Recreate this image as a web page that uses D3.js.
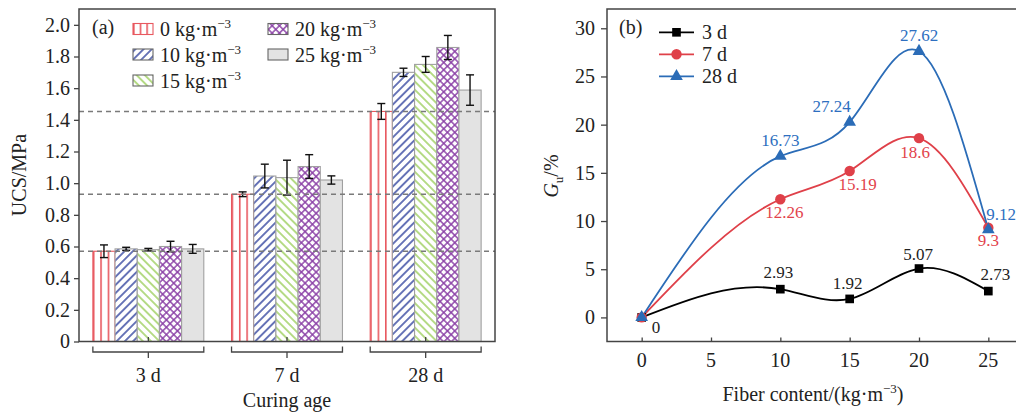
<!DOCTYPE html>
<html>
<head>
<meta charset="utf-8">
<script src="https://cdn.jsdelivr.net/npm/d3@7"></script>
<style>
  body { margin: 0; background: #fff; }
  svg text { font-family: "Liberation Serif", "Times New Roman", serif; fill: #222; }
</style>
</head>
<body>
<svg id="chart" width="1016" height="415" font-family="Liberation Serif, serif"></svg>
<script>
// ---- data: panel (a) UCS bars ----
var ages = ['3 d', '7 d', '28 d'];
var contents = ['0', '10', '15', '20', '25'];
var ucs3d = [0.57, 0.585, 0.58, 0.60, 0.585];
var ucs7d = [0.93, 1.045, 1.035, 1.105, 1.02];
var ucs28d = [1.453, 1.70, 1.75, 1.857, 1.588];
var err3d = [0.04, 0.01, 0.008, 0.033, 0.028];
var err7d = [0.015, 0.075, 0.11, 0.075, 0.026];
var err28d = [0.05, 0.026, 0.05, 0.076, 0.096];
var ucsTicks = [0, 0.2, 0.4, 0.6, 0.8, 1.0, 1.2, 1.4, 1.6, 1.8, 2.0];

// ---- data: panel (b) Gu lines ----
var fiber = [0, 10, 15, 20, 25];
var gu3d = [0, 2.93, 1.92, 5.07, 2.73];
var gu7d = [0, 12.26, 15.19, 18.6, 9.3];
var gu28d = [0, 16.73, 20.27, 27.62, 9.12];
var lbl3d = ['0', '2.93', '1.92', '5.07', '2.73'];
var lbl7d = ['', '12.26', '15.19', '18.6', '9.3'];
var lbl28d = ['', '16.73', '27.24', '27.62', '9.12'];
var guTicks = [0, 5, 10, 15, 20, 25, 30];
var fiberTicks = [0, 5, 10, 15, 20, 25];

var svg = d3.select('#chart'),
    defs = svg.append('defs');

var RED = '#e8585f', BLUE = '#2b6cb7', BAR_BLUE = '#2a3c9a',
    GREEN = '#98cc55', PURPLE = '#8a3fa6', GREY_EDGE = '#a0a0a0';

createPatterns();
drawUcs();
drawGu();

//////////////////////////////////////////////////////
function createPatterns() {
    // vertical red lines, three per bar
    var p0 = defs.append('pattern')
        .attr('id', 'pat0')
        .attr('patternUnits', 'objectBoundingBox')
        .attr('width', 1 / 3).attr('height', 1);
    p0.append('line')
        .attr('x1', 0.8).attr('x2', 0.8).attr('y1', 0).attr('y2', 500)
        .attr('stroke', RED).attr('stroke-width', 1.6);

    hatch('pat10', BAR_BLUE, 45, 5.8, false, 1.4);
    hatch('pat15', GREEN, -45, 5.8, false, 1.4);
    hatch('pat20', PURPLE, 45, 5.2, true, 1.4);
}

function hatch(id, color, angle, gap, cross, sw) {
    var p = defs.append('pattern')
        .attr('id', id)
        .attr('patternUnits', 'userSpaceOnUse')
        .attr('width', gap).attr('height', gap)
        .attr('patternTransform', 'rotate(' + angle + ')');
    p.append('rect').attr('width', gap).attr('height', gap).attr('fill', '#fff');
    p.append('line')
        .attr('x1', gap / 2).attr('x2', gap / 2).attr('y1', 0).attr('y2', gap)
        .attr('stroke', color).attr('stroke-width', sw);
    if (cross) {
        p.append('line')
            .attr('x1', 0).attr('x2', gap).attr('y1', gap / 2).attr('y2', gap / 2)
            .attr('stroke', color).attr('stroke-width', sw);
    }
}

// cubic spline as a function of x (natural end conditions), drawn as beziers
function curveSplineX(context) {
    var xs, ys;
    return {
        areaStart: function() {},
        areaEnd: function() {},
        lineStart: function() { xs = []; ys = []; },
        point: function(x, y) { xs.push(+x); ys.push(+y); },
        lineEnd: function() {
            var n = xs.length - 1, i, h = [], M = [], s = [];
            for (i = 0; i < n; i++) h[i] = xs[i + 1] - xs[i];
            for (i = 0; i <= n; i++) M[i] = 0;
            // thomas algorithm for interior second derivatives
            var a = [], b = [], c = [], r = [];
            for (i = 1; i < n; i++) {
                a[i] = h[i - 1];
                b[i] = 2 * (h[i - 1] + h[i]);
                c[i] = h[i];
                r[i] = 6 * ((ys[i + 1] - ys[i]) / h[i] - (ys[i] - ys[i - 1]) / h[i - 1]);
            }
            for (i = 2; i < n; i++) {
                var m = a[i] / b[i - 1];
                b[i] -= m * c[i - 1];
                r[i] -= m * r[i - 1];
            }
            for (i = n - 1; i >= 1; i--) {
                M[i] = (r[i] - (i < n - 1 ? c[i] * M[i + 1] : 0)) / b[i];
            }
            for (i = 0; i < n; i++) {
                s[i] = (ys[i + 1] - ys[i]) / h[i] - h[i] * (2 * M[i] + M[i + 1]) / 6;
            }
            s[n] = (ys[n] - ys[n - 1]) / h[n - 1] + h[n - 1] * (M[n - 1] + 2 * M[n]) / 6;

            context.moveTo(xs[0], ys[0]);
            for (i = 0; i < n; i++) {
                context.bezierCurveTo(
                    xs[i] + h[i] / 3, ys[i] + h[i] * s[i] / 3,
                    xs[i + 1] - h[i] / 3, ys[i + 1] - h[i] * s[i + 1] / 3,
                    xs[i + 1], ys[i + 1]);
            }
        }
    };
}

function barFill(j) {
    return j === 4 ? '#e3e3e3' : 'url(#pat' + contents[j] + ')';
}
function barEdge(j) {
    return j === 0 ? RED : GREY_EDGE;
}

function supUnit(sel, prefix) {
    sel.append('tspan').text(prefix + 'kg·m');
    sel.append('tspan').attr('dy', -8).attr('font-size', 13).text('−3');
}

function styleAxis(ax) {
    ax.attr('font-family', null).attr('font-size', null);
    ax.select('.domain').remove();
    ax.selectAll('line').attr('stroke', '#444').attr('stroke-width', 1.3);
    ax.selectAll('text').attr('font-size', 20).attr('fill', '#222');
}

function drawUcs() {
    var left = 79, right = 495, top = 9, bottom = 341.5;
    var means = [ucs3d, ucs7d, ucs28d],
        errs = [err3d, err7d, err28d];

    var x0 = d3.scaleBand().domain(ages).range([left, right])
        .paddingInner(0.2).paddingOuter(0.1);
    var x1 = d3.scaleBand().domain(contents).range([0, x0.bandwidth()]);
    var y = d3.scaleLinear().domain([0, 2.1]).range([bottom, top]);

    var g = svg.append('g');

    var groups = g.selectAll('g.age')
        .data(ages)
        .enter().append('g')
        .attr('class', 'age')
        .attr('transform', function(d) { return 'translate(' + x0(d) + ',0)'; });

    groups.selectAll('rect')
        .data(function(d, i) { return means[i].map(function(v, j) { return {v: v, j: j}; }); })
        .enter().append('rect')
        .attr('x', function(d) { return x1(contents[d.j]); })
        .attr('y', function(d) { return y(d.v); })
        .attr('width', x1.bandwidth())
        .attr('height', function(d) { return bottom - y(d.v); })
        .attr('fill', function(d) { return barFill(d.j); })
        .attr('stroke', function(d) { return barEdge(d.j); })
        .attr('stroke-width', 1.1);

    // reference lines at the plain (0 kg) strength
    g.selectAll('line.ref')
        .data(means.map(function(m) { return m[0]; }))
        .enter().append('line')
        .attr('class', 'ref')
        .attr('x1', left).attr('x2', right)
        .attr('y1', function(d) { return y(d); })
        .attr('y2', function(d) { return y(d); })
        .attr('stroke', '#7a7a7a').attr('stroke-width', 1.5)
        .attr('stroke-dasharray', '5,4');

    // error bars
    groups.each(function(age, i) {
        var eb = d3.select(this).selectAll('g.err')
            .data(means[i].map(function(v, j) { return {v: v, e: errs[i][j], j: j}; }))
            .enter().append('g')
            .attr('class', 'err')
            .attr('stroke', '#111').attr('stroke-width', 1.4);
        var cx = function(d) { return x1(contents[d.j]) + x1.bandwidth() / 2; };
        eb.append('line')
            .attr('x1', cx).attr('x2', cx)
            .attr('y1', function(d) { return y(d.v - d.e); })
            .attr('y2', function(d) { return y(d.v + d.e); });
        [-1, 1].forEach(function(s) {
            eb.append('line')
                .attr('x1', function(d) { return cx(d) - 4; })
                .attr('x2', function(d) { return cx(d) + 4; })
                .attr('y1', function(d) { return y(d.v + s * d.e); })
                .attr('y2', function(d) { return y(d.v + s * d.e); });
        });
    });

    // frame + y axis
    g.append('rect')
        .attr('x', left).attr('y', top)
        .attr('width', right - left).attr('height', bottom - top)
        .attr('fill', 'none').attr('stroke', '#444').attr('stroke-width', 1.5);

    g.append('g')
        .attr('transform', 'translate(' + left + ',0)')
        .call(d3.axisLeft(y).tickValues(ucsTicks).tickSize(5).tickPadding(4)
            .tickFormat(function(d) { return d === 0 ? '0' : d3.format('.1f')(d); }))
        .call(styleAxis);

    // brackets under each curing age
    ages.forEach(function(a) {
        var gx = x0(a), w = x0.bandwidth(), cx = gx + w / 2;
        g.append('path')
            .attr('d', 'M' + gx + ',346.5V352H' + (gx + w) + 'V346.5M' + cx + ',352V358M' + cx + ',' + bottom + 'V337')
            .attr('fill', 'none').attr('stroke', '#444').attr('stroke-width', 1.3);
        g.append('text')
            .attr('x', cx).attr('y', 382)
            .attr('text-anchor', 'middle').attr('font-size', 20)
            .text(a);
    });

    g.append('text')
        .attr('x', 287).attr('y', 407)
        .attr('text-anchor', 'middle').attr('font-size', 20)
        .text('Curing age');

    g.append('text')
        .attr('transform', 'translate(26,175) rotate(-90)')
        .attr('text-anchor', 'middle').attr('font-size', 20)
        .text('UCS/MPa');

    g.append('text')
        .attr('x', 92).attr('y', 34).attr('font-size', 20)
        .text('(a)');

    // legend
    var legPos = [[133, 29], [133, 54.5], [133, 80.5], [268, 29], [268, 54.5]];
    contents.forEach(function(c, j) {
        var p = legPos[j];
        g.append('rect')
            .attr('x', p[0]).attr('y', p[1] - 5.5)
            .attr('width', 20).attr('height', 11)
            .attr('fill', barFill(j)).attr('stroke', j === 0 ? RED : '#666')
            .attr('stroke-width', 1.1);
        var t = g.append('text')
            .attr('x', p[0] + 27).attr('y', p[1] + 7)
            .attr('font-size', 20);
        supUnit(t, c + ' ');
    });
}

function drawGu() {
    var left = 607, right = 1023, top = 9, bottom = 341.5;

    var x = d3.scaleLinear().domain([-2.5, 27.5]).range([left, right]);
    var y = d3.scaleLinear().domain([-2.5, 32]).range([bottom, top]);

    var g = svg.append('g');

    g.append('rect')
        .attr('x', left).attr('y', top)
        .attr('width', right - left).attr('height', bottom - top)
        .attr('fill', 'none').attr('stroke', '#444').attr('stroke-width', 1.5);

    g.append('g')
        .attr('transform', 'translate(' + left + ',0)')
        .call(d3.axisLeft(y).tickValues(guTicks).tickSize(6).tickPadding(6))
        .call(styleAxis);

    g.append('g')
        .attr('transform', 'translate(0,' + bottom + ')')
        .call(d3.axisTop(x).tickValues(fiberTicks).tickSize(4).tickFormat(''))
        .call(styleAxis);
    g.selectAll('text.xt')
        .data(fiberTicks)
        .enter().append('text')
        .attr('class', 'xt')
        .attr('x', function(d) { return x(d); }).attr('y', 367)
        .attr('text-anchor', 'middle').attr('font-size', 20)
        .text(function(d) { return d; });

    var xl = g.append('text')
        .attr('x', 813).attr('y', 401)
        .attr('text-anchor', 'middle').attr('font-size', 20);
    xl.append('tspan').text('Fiber content/(kg·m');
    xl.append('tspan').attr('dy', -8).attr('font-size', 13).text('−3');
    xl.append('tspan').attr('dy', 8).text(')');

    var yl = g.append('text')
        .attr('transform', 'translate(558,176) rotate(-90)')
        .attr('text-anchor', 'middle').attr('font-size', 20);
    yl.append('tspan').attr('font-style', 'italic').text('G');
    yl.append('tspan').attr('dy', 5).attr('font-size', 13).text('u');
    yl.append('tspan').attr('dy', -5).text('/%');

    g.append('text')
        .attr('x', 619).attr('y', 34).attr('font-size', 20)
        .text('(b)');

    var line = d3.line()
        .x(function(d) { return x(d[0]); })
        .y(function(d) { return y(d[1]); })
        .curve(curveSplineX);

    var series = [
        {name: '3 d', vals: gu3d, lbls: lbl3d, color: '#000', labelColor: '#222', shape: d3.symbolSquare, size: 75,
         off: [[10, 16, 'start'], [-2, -11, 'middle'], [-2, -10, 'middle'], [-1, -9, 'middle'], [7, -11, 'middle']]},
        {name: '7 d', vals: gu7d, lbls: lbl7d, color: '#df4049', labelColor: '#e2434c', shape: d3.symbolCircle, size: 85,
         off: [[0, 0, 'middle'], [4, 19, 'middle'], [8, 19, 'middle'], [-4, 20, 'middle'], [0, 18, 'middle']]},
        {name: '28 d', vals: gu28d, lbls: lbl28d, color: BLUE, labelColor: '#2e6fc0', shape: d3.symbolTriangle, size: 70,
         off: [[0, 0, 'middle'], [0, -10, 'middle'], [-18, -10, 'middle'], [0, -10, 'middle'], [-2, -10, 'start']]}
    ];

    series.forEach(function(s) {
        var pts = fiber.map(function(f, i) { return [f, s.vals[i]]; });
        g.append('path')
            .datum(pts)
            .attr('d', line)
            .attr('fill', 'none').attr('stroke', s.color).attr('stroke-width', 1.8);
    });

    series.forEach(function(s) {
        var pts = fiber.map(function(f, i) { return [f, s.vals[i]]; });
        g.selectAll(null)
            .data(pts)
            .enter().append('path')
            .attr('transform', function(d) { return 'translate(' + x(d[0]) + ',' + y(d[1]) + ')'; })
            .attr('d', d3.symbol().type(s.shape).size(s.size))
            .attr('fill', s.color);
        g.selectAll(null)
            .data(pts)
            .enter().append('text')
            .attr('x', function(d, i) { return x(d[0]) + s.off[i][0]; })
            .attr('y', function(d, i) { return y(d[1]) + s.off[i][1]; })
            .attr('text-anchor', function(d, i) { return s.off[i][2]; })
            .attr('font-size', 17)
            .style('fill', s.labelColor)
            .text(function(d, i) { return s.lbls[i]; });
    });

    // legend
    series.forEach(function(s, i) {
        var ly = 32.3 + i * 22;
        g.append('line')
            .attr('x1', 659).attr('x2', 694).attr('y1', ly).attr('y2', ly)
            .attr('stroke', s.color).attr('stroke-width', 1.8);
        g.append('path')
            .attr('transform', 'translate(676.5,' + ly + ')')
            .attr('d', d3.symbol().type(s.shape).size(s.size))
            .attr('fill', s.color);
        g.append('text')
            .attr('x', 702).attr('y', ly + 7).attr('font-size', 20)
            .text(s.name);
    });
}
</script>
</body>
</html>
